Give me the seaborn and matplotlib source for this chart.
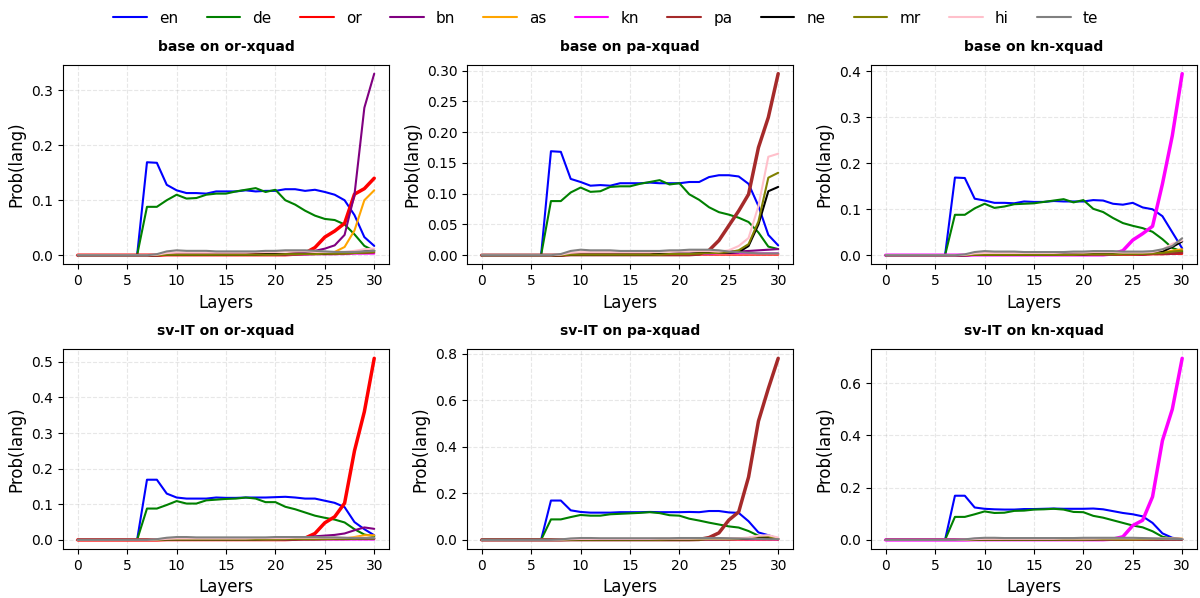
import matplotlib
matplotlib.use("Agg")
import matplotlib.pyplot as plt
from matplotlib.lines import Line2D
import seaborn as sns
import pandas as pd
import numpy as np

LAYERS = list(range(31))
LANGS = ["en", "de", "or", "bn", "as", "kn", "pa", "ne", "mr", "hi", "te"]
COLORS = ["blue", "green", "red", "purple", "orange", "magenta",
          "brown", "black", "olive", "pink", "gray"]

# ---- base on or-xquad ----
B_OR_EN = [0, 0, 0, 0, 0, 0, 0, .169, .168, .128, .118, .113, .113, .112, .116, .116, .116, .118, .116, .117, .117, .120, .120, .117, .119, .115, .110, .100, .073, .033, .017]
B_OR_DE = [0, 0, 0, 0, 0, 0, 0, .088, .088, .100, .110, .103, .104, .110, .112, .112, .116, .119, .122, .115, .119, .100, .092, .081, .072, .066, .064, .056, .038, .017, .008]
B_OR_OR = [0, 0, 0, 0, 0, 0, 0, 0, 0, .001, .001, .001, .001, .001, .001, .001, .001, .001, .001, .001, .001, .001, .002, .004, .014, .033, .044, .058, .111, .121, .140]
B_OR_BN = [0, 0, 0, 0, 0, 0, 0, 0, 0, .001, .001, .001, .001, .001, .001, .001, .001, .001, .001, .001, .002, .002, .003, .004, .008, .012, .018, .037, .110, .268, .330]
B_OR_AS = [0, 0, 0, 0, 0, 0, 0, 0, 0, .001, .001, .001, .001, .001, .001, .001, .001, .001, .001, .001, .001, .001, .001, .002, .003, .004, .006, .015, .045, .100, .118]
B_OR_KN = [0, 0, 0, 0, 0, 0, 0, 0, 0, .001, .001, .001, .001, .001, .001, .001, .001, .001, .001, .001, .001, .001, .001, .001, .002, .002, .002, .002, .003, .003, .003]
B_OR_PA = [0, 0, 0, 0, 0, 0, 0, 0, 0, .001, .001, .001, .001, .001, .001, .001, .001, .001, .001, .001, .001, .001, .001, .002, .002, .002, .002, .003, .004, .004, .005]
B_OR_NE = [0, 0, 0, 0, 0, 0, 0, 0, 0, .001, .001, .001, .001, .001, .001, .001, .001, .001, .001, .002, .002, .002, .003, .003, .003, .003, .004, .004, .005, .007, .008]
B_OR_MR = [0, 0, 0, 0, 0, 0, 0, 0, 0, .001, .001, .001, .001, .001, .001, .001, .001, .001, .001, .001, .001, .002, .002, .002, .002, .003, .003, .003, .004, .005, .006]
B_OR_HI = [0, 0, 0, 0, 0, 0, 0, 0, .001, .004, .005, .005, .005, .005, .005, .005, .005, .005, .006, .006, .006, .007, .007, .007, .006, .006, .006, .006, .008, .011, .012]
B_OR_TE = [0, 0, 0, 0, 0, 0, 0, 0, .002, .007, .009, .008, .008, .008, .007, .007, .007, .007, .007, .008, .008, .009, .009, .009, .008, .007, .006, .006, .006, .007, .008]

# ---- base on pa-xquad ----
B_PA_EN = [0, 0, 0, 0, 0, 0, 0, .169, .168, .124, .119, .113, .114, .113, .117, .117, .117, .118, .117, .117, .117, .119, .119, .127, .130, .130, .128, .116, .080, .033, .016]
B_PA_DE = [0, 0, 0, 0, 0, 0, 0, .088, .088, .102, .110, .103, .104, .111, .112, .112, .116, .119, .122, .115, .117, .099, .090, .078, .070, .066, .061, .054, .037, .014, .010]
B_PA_OR = [0, 0, 0, 0, 0, 0, 0, 0, 0, .001, .001, .001, .001, .001, .001, .001, .001, .001, .001, .001, .001, .001, .001, .001, .001, .001, .001, .001, .001, .001, .001]
B_PA_BN = [0, 0, 0, 0, 0, 0, 0, 0, 0, .001, .001, .001, .001, .001, .001, .001, .001, .002, .002, .002, .003, .003, .004, .005, .006, .006, .006, .007, .008, .009, .010]
B_PA_AS = [0, 0, 0, 0, 0, 0, 0, 0, 0, .001, .001, .001, .001, .001, .001, .001, .001, .001, .001, .001, .001, .002, .002, .002, .002, .002, .002, .002, .002, .002, .002]
B_PA_KN = [0, 0, 0, 0, 0, 0, 0, 0, 0, .001, .001, .001, .001, .001, .001, .001, .001, .001, .001, .001, .001, .001, .002, .002, .003, .003, .003, .003, .003, .003, .003]
B_PA_PA = [0, 0, 0, 0, 0, 0, 0, 0, 0, .001, .001, .001, .001, .001, .001, .001, .001, .001, .001, .001, .001, .001, .002, .008, .024, .048, .072, .099, .175, .224, .295]
B_PA_NE = [0, 0, 0, 0, 0, 0, 0, 0, 0, .001, .001, .001, .001, .001, .001, .001, .001, .001, .002, .002, .003, .003, .004, .004, .004, .004, .005, .015, .050, .104, .111]
B_PA_MR = [0, 0, 0, 0, 0, 0, 0, 0, 0, .001, .001, .001, .001, .001, .001, .001, .001, .001, .001, .002, .002, .002, .003, .003, .004, .005, .008, .018, .055, .126, .134]
B_PA_HI = [0, 0, 0, 0, 0, 0, 0, 0, .001, .004, .005, .005, .005, .005, .005, .005, .005, .005, .006, .006, .006, .006, .007, .007, .006, .008, .015, .028, .080, .160, .165]
B_PA_TE = [0, 0, 0, 0, 0, 0, 0, 0, .002, .007, .009, .008, .008, .008, .007, .007, .007, .007, .007, .008, .008, .009, .009, .009, .008, .006, .005, .004, .003, .003, .003]

# ---- base on kn-xquad ----
B_KN_EN = [0, 0, 0, 0, 0, 0, 0, .169, .168, .123, .119, .114, .114, .113, .117, .116, .116, .118, .117, .117, .117, .120, .119, .112, .110, .114, .104, .100, .085, .050, .015]
B_KN_DE = [0, 0, 0, 0, 0, 0, 0, .088, .088, .102, .112, .103, .106, .111, .112, .113, .116, .119, .122, .115, .120, .101, .094, .081, .070, .064, .059, .051, .035, .016, .008]
B_KN_OR = [0, 0, 0, 0, 0, 0, 0, 0, 0, .001, .001, .001, .001, .001, .001, .001, .001, .001, .001, .001, .001, .001, .001, .001, .001, .001, .001, .002, .002, .003, .003]
B_KN_BN = [0, 0, 0, 0, 0, 0, 0, 0, 0, .001, .001, .001, .001, .001, .001, .001, .001, .001, .001, .001, .001, .002, .002, .002, .002, .002, .002, .003, .003, .004, .005]
B_KN_AS = [0, 0, 0, 0, 0, 0, 0, 0, 0, .001, .001, .001, .001, .001, .001, .001, .001, .001, .001, .001, .001, .001, .001, .002, .002, .002, .003, .004, .006, .010, .013]
B_KN_KN = [0, 0, 0, 0, 0, 0, 0, 0, 0, .001, .001, .001, .001, .001, .001, .001, .001, .001, .001, .001, .001, .001, .001, .003, .010, .033, .047, .063, .155, .260, .395]
B_KN_PA = [0, 0, 0, 0, 0, 0, 0, 0, 0, .001, .001, .001, .001, .001, .001, .001, .001, .001, .001, .001, .001, .001, .001, .001, .002, .002, .002, .003, .003, .004, .005]
B_KN_NE = [0, 0, 0, 0, 0, 0, 0, 0, 0, .001, .001, .001, .001, .001, .001, .001, .001, .001, .002, .002, .002, .003, .003, .003, .003, .003, .004, .005, .008, .018, .030]
B_KN_MR = [0, 0, 0, 0, 0, 0, 0, 0, 0, .001, .001, .001, .001, .001, .001, .001, .001, .001, .001, .001, .002, .002, .002, .002, .003, .003, .003, .004, .005, .008, .010]
B_KN_HI = [0, 0, 0, 0, 0, 0, 0, 0, .001, .004, .005, .005, .005, .005, .005, .005, .005, .005, .006, .006, .006, .007, .007, .007, .006, .006, .006, .007, .012, .025, .032]
B_KN_TE = [0, 0, 0, 0, 0, 0, 0, 0, .002, .007, .009, .008, .008, .008, .007, .007, .007, .007, .007, .008, .008, .009, .009, .009, .008, .008, .008, .009, .013, .020, .037]

# ---- sv-IT on or-xquad ----
S_OR_EN = [0, 0, 0, 0, 0, 0, 0, .169, .169, .130, .119, .116, .116, .116, .119, .118, .118, .119, .119, .119, .120, .121, .119, .116, .116, .110, .104, .092, .050, .030, .013]
S_OR_DE = [0, 0, 0, 0, 0, 0, 0, .088, .088, .098, .109, .102, .102, .111, .113, .115, .116, .119, .116, .106, .106, .093, .086, .077, .068, .062, .057, .049, .030, .015, .010]
S_OR_OR = [0, 0, 0, 0, 0, 0, 0, 0, 0, .001, .001, .001, .001, .001, .001, .001, .001, .001, .001, .001, .001, .001, .002, .005, .018, .048, .065, .103, .250, .360, .510]
S_OR_BN = [0, 0, 0, 0, 0, 0, 0, 0, 0, .001, .001, .001, .001, .001, .001, .001, .002, .002, .002, .003, .003, .004, .005, .007, .010, .012, .014, .018, .027, .035, .031]
S_OR_AS = [0, 0, 0, 0, 0, 0, 0, 0, 0, .001, .001, .001, .001, .001, .001, .001, .001, .001, .001, .001, .001, .001, .002, .002, .002, .003, .003, .004, .008, .013, .013]
S_OR_KN = [0, 0, 0, 0, 0, 0, 0, 0, 0, .001, .001, .001, .001, .001, .001, .001, .001, .001, .001, .001, .001, .001, .001, .001, .001, .001, .001, .001, .001, .001, .001]
S_OR_PA = [0, 0, 0, 0, 0, 0, 0, 0, 0, .001, .001, .001, .001, .001, .001, .001, .001, .001, .001, .001, .001, .001, .001, .001, .001, .002, .002, .002, .003, .003, .003]
S_OR_NE = [0, 0, 0, 0, 0, 0, 0, 0, 0, .001, .001, .001, .001, .001, .001, .001, .001, .001, .001, .002, .002, .002, .002, .003, .003, .003, .003, .003, .004, .005, .005]
S_OR_MR = [0, 0, 0, 0, 0, 0, 0, 0, 0, .001, .001, .001, .001, .001, .001, .001, .001, .001, .001, .001, .001, .002, .002, .002, .002, .002, .003, .003, .003, .004, .004]
S_OR_HI = [0, 0, 0, 0, 0, 0, 0, 0, .001, .003, .004, .004, .004, .004, .004, .004, .004, .004, .005, .005, .005, .005, .006, .006, .006, .006, .006, .006, .006, .006, .006]
S_OR_TE = [0, 0, 0, 0, 0, 0, 0, 0, .002, .006, .008, .008, .007, .007, .007, .007, .007, .007, .007, .007, .008, .008, .008, .008, .008, .007, .007, .006, .005, .005, .005]

# ---- sv-IT on pa-xquad ----
S_PA_EN = [0, 0, 0, 0, 0, 0, 0, .169, .169, .127, .120, .117, .117, .117, .119, .119, .119, .120, .119, .119, .119, .120, .119, .124, .124, .118, .116, .080, .032, .020, .005]
S_PA_DE = [0, 0, 0, 0, 0, 0, 0, .088, .088, .098, .107, .104, .104, .110, .112, .114, .116, .119, .115, .106, .104, .091, .083, .074, .066, .058, .053, .038, .018, .010, .005]
S_PA_OR = [0, 0, 0, 0, 0, 0, 0, 0, 0, .001, .001, .001, .001, .001, .001, .001, .001, .001, .001, .001, .001, .001, .001, .001, .001, .001, .001, .001, .001, .001, .001]
S_PA_BN = [0, 0, 0, 0, 0, 0, 0, 0, 0, .001, .001, .001, .001, .001, .001, .001, .001, .002, .002, .002, .002, .003, .003, .003, .004, .004, .004, .005, .005, .005, .004]
S_PA_AS = [0, 0, 0, 0, 0, 0, 0, 0, 0, .001, .001, .001, .001, .001, .001, .001, .001, .001, .001, .001, .001, .002, .002, .002, .002, .002, .003, .004, .006, .006, .003]
S_PA_KN = [0, 0, 0, 0, 0, 0, 0, 0, 0, .001, .001, .001, .001, .001, .001, .001, .001, .001, .001, .001, .001, .001, .002, .002, .002, .003, .003, .003, .003, .003, .002]
S_PA_PA = [0, 0, 0, 0, 0, 0, 0, 0, 0, .001, .001, .001, .001, .001, .001, .001, .001, .001, .001, .001, .001, .001, .002, .010, .030, .085, .120, .270, .510, .650, .780]
S_PA_NE = [0, 0, 0, 0, 0, 0, 0, 0, 0, .001, .001, .001, .001, .001, .001, .001, .001, .001, .002, .002, .002, .002, .003, .003, .003, .003, .004, .005, .008, .010, .003]
S_PA_MR = [0, 0, 0, 0, 0, 0, 0, 0, 0, .001, .001, .001, .001, .001, .001, .001, .001, .001, .001, .002, .002, .002, .002, .003, .003, .004, .005, .008, .015, .015, .005]
S_PA_HI = [0, 0, 0, 0, 0, 0, 0, 0, .001, .003, .004, .004, .004, .004, .004, .004, .004, .004, .005, .005, .005, .005, .006, .006, .006, .006, .007, .010, .018, .020, .010]
S_PA_TE = [0, 0, 0, 0, 0, 0, 0, 0, .002, .006, .008, .008, .007, .007, .007, .007, .007, .007, .007, .007, .008, .008, .008, .008, .008, .007, .006, .005, .004, .003, .003]

# ---- sv-IT on kn-xquad ----
S_KN_EN = [0, 0, 0, 0, 0, 0, 0, .169, .169, .124, .119, .117, .116, .116, .118, .118, .119, .120, .119, .119, .119, .120, .117, .110, .103, .098, .090, .065, .025, .008, .003]
S_KN_DE = [0, 0, 0, 0, 0, 0, 0, .088, .088, .098, .109, .103, .104, .111, .112, .116, .117, .119, .116, .107, .106, .092, .085, .075, .065, .055, .048, .033, .012, .005, .003]
S_KN_OR = [0, 0, 0, 0, 0, 0, 0, 0, 0, .001, .001, .001, .001, .001, .001, .001, .001, .001, .001, .001, .001, .001, .001, .001, .001, .001, .001, .001, .001, .002, .002]
S_KN_BN = [0, 0, 0, 0, 0, 0, 0, 0, 0, .001, .001, .001, .001, .001, .001, .001, .001, .001, .001, .001, .001, .002, .002, .002, .002, .002, .002, .002, .002, .002, .002]
S_KN_AS = [0, 0, 0, 0, 0, 0, 0, 0, 0, .001, .001, .001, .001, .001, .001, .001, .001, .001, .001, .001, .001, .001, .001, .002, .002, .002, .002, .003, .004, .005, .005]
S_KN_KN = [0, 0, 0, 0, 0, 0, 0, 0, 0, .001, .001, .001, .001, .001, .001, .001, .001, .001, .001, .001, .001, .001, .001, .003, .012, .055, .075, .165, .380, .500, .695]
S_KN_PA = [0, 0, 0, 0, 0, 0, 0, 0, 0, .001, .001, .001, .001, .001, .001, .001, .001, .001, .001, .001, .001, .001, .001, .001, .001, .002, .002, .002, .002, .002, .002]
S_KN_NE = [0, 0, 0, 0, 0, 0, 0, 0, 0, .001, .001, .001, .001, .001, .001, .001, .001, .001, .002, .002, .002, .002, .003, .003, .003, .003, .003, .003, .003, .003, .003]
S_KN_MR = [0, 0, 0, 0, 0, 0, 0, 0, 0, .001, .001, .001, .001, .001, .001, .001, .001, .001, .001, .001, .001, .002, .002, .002, .002, .002, .003, .003, .003, .003, .003]
S_KN_HI = [0, 0, 0, 0, 0, 0, 0, 0, .001, .003, .004, .004, .004, .004, .004, .004, .004, .004, .005, .005, .005, .005, .006, .006, .006, .006, .006, .006, .006, .005, .004]
S_KN_TE = [0, 0, 0, 0, 0, 0, 0, 0, .002, .006, .008, .008, .007, .007, .007, .007, .007, .007, .007, .007, .008, .008, .008, .008, .008, .008, .007, .006, .005, .004, .003]

PANELS = [
    ("base on or-xquad", "or", [B_OR_EN, B_OR_DE, B_OR_OR, B_OR_BN, B_OR_AS, B_OR_KN, B_OR_PA, B_OR_NE, B_OR_MR, B_OR_HI, B_OR_TE]),
    ("base on pa-xquad", "pa", [B_PA_EN, B_PA_DE, B_PA_OR, B_PA_BN, B_PA_AS, B_PA_KN, B_PA_PA, B_PA_NE, B_PA_MR, B_PA_HI, B_PA_TE]),
    ("base on kn-xquad", "kn", [B_KN_EN, B_KN_DE, B_KN_OR, B_KN_BN, B_KN_AS, B_KN_KN, B_KN_PA, B_KN_NE, B_KN_MR, B_KN_HI, B_KN_TE]),
    ("sv-IT on or-xquad", "or", [S_OR_EN, S_OR_DE, S_OR_OR, S_OR_BN, S_OR_AS, S_OR_KN, S_OR_PA, S_OR_NE, S_OR_MR, S_OR_HI, S_OR_TE]),
    ("sv-IT on pa-xquad", "pa", [S_PA_EN, S_PA_DE, S_PA_OR, S_PA_BN, S_PA_AS, S_PA_KN, S_PA_PA, S_PA_NE, S_PA_MR, S_PA_HI, S_PA_TE]),
    ("sv-IT on kn-xquad", "kn", [S_KN_EN, S_KN_DE, S_KN_OR, S_KN_BN, S_KN_AS, S_KN_KN, S_KN_PA, S_KN_NE, S_KN_MR, S_KN_HI, S_KN_TE]),
]

sns.set_style("ticks")
plt.rcParams['font.family'] = ['DejaVu Sans']
for key in ["text.color", "axes.labelcolor", "xtick.color", "ytick.color", "axes.edgecolor"]:
    plt.rcParams[key] = "black"

fig, axes = plt.subplots(2, 3, figsize=(12, 5.98), dpi=100)

for ax, (title, target, series) in zip(axes.flat, PANELS):
    for lang, color, vals in zip(LANGS, COLORS, series):
        df = pd.DataFrame({"Layers": LAYERS, "prob": vals})
        lw = 2.5 if lang == target else 1.5
        sns.lineplot(data=df, x="Layers", y="prob", color=color,
                     linewidth=lw, ax=ax, legend=False)
    ax.set_title(title, fontsize=10, fontweight="bold", pad=10)
    ax.set_xlabel("Layers", fontsize=12)
    ax.set_ylabel("Prob(lang)", fontsize=12)
    ax.tick_params(labelsize=10)
    ax.set_xticks([0, 5, 10, 15, 20, 25, 30])
    ax.grid(True, linestyle="--", color="#b0b0b0", alpha=0.3)

# one uniform handle per language
handles = [Line2D([], [], color=c, linewidth=1.5) for c in COLORS]
fig.legend(handles, LANGS, loc="upper center", ncol=11, frameon=False,
           fontsize=11, bbox_to_anchor=(0.505, 1.005), handlelength=2.2,
           columnspacing=1.85)

fig.subplots_adjust(left=0.0525, right=0.9975, top=0.892, bottom=0.082,
                    wspace=0.239, hspace=0.425)
fig.savefig("out.png", dpi=100)
